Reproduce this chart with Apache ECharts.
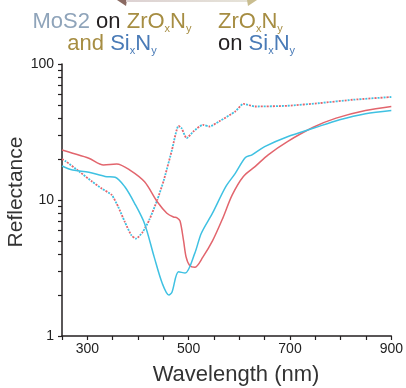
<!DOCTYPE html>
<html><head><meta charset="utf-8">
<script src="https://cdn.jsdelivr.net/npm/echarts@6/dist/echarts.min.js"></script>
<style>html,body{margin:0;padding:0;background:#fff}#c{width:406px;height:388px}</style>
</head><body><div id="c"></div>
<script>
// Solid red: ZrOxNy on SixNy
const redWl  = [250,271,303,332,358,384,413,438,457,470,477,483,490,495,502,512,528,547,567,586,608,631,657,695,747,791,849,900];
const redVal = [23.3,22.1,20.3,18.1,18.4,16.6,13.6,9.7,8.0,7.5,7.4,7.0,5.0,3.8,3.3,3.2,3.8,5.0,7.3,10.9,14.9,17.6,21.5,26.9,34.4,40.0,45.5,48.7];
// Solid cyan: MoS2 on ZrOxNy and SixNy
const cyanWl  = [250,271,303,335,355,374,393,413,432,448,461,467,480,493,512,525,547,573,592,612,625,650,695,747,798,849,900];
const cyanVal = [17.8,16.6,16.0,14.9,14.7,12.5,9.5,6.7,3.8,2.43,2.0,2.1,2.97,2.9,4.05,5.7,8.0,12.5,15.7,20.5,21.5,24.7,29.2,33.8,38.9,43.1,45.5];
// Dotted curves (red and cyan overlap)
const dotWl      = [250,258,284,310,329,348,361,374,387,396,409,422,438,451,467,480,486,496,509,528,541,560,592,608,631,695,759,824,900];
const dotRedVal  = [20.0,19.2,16.2,13.6,12.1,10.9,8.9,6.9,5.5,5.2,5.8,7.1,10.0,14.0,23.3,35.1,33.7,28.5,31.8,35.7,34.7,37.8,44.8,50.9,48.7,49.3,51.6,54.6,57.2];
const dotCyanVal = [20.0,19.2,16.2,13.6,12.1,10.9,8.9,6.9,5.5,5.2,5.8,7.1,10.0,14.0,23.3,35.1,33.7,28.5,31.8,35.7,34.7,37.8,44.8,50.9,48.7,49.3,51.6,54.6,57.2];
const xTickLabels = [300,500,700,900];
const yTickLabels = [1,10,100];
const yTicks = [1,2,3,4,5,6,7,8,9,10,20,30,40,50,60,70,80,90,100];

const pairs = (xs, ys) => xs.map((x, i) => [x, ys[i]]);
const RED = '#e2656d', CYAN = '#3fc1e2';
const GOLD = '#a68d42', BLUE = '#4a7bb7', GREY = '#8fa4ba', INK = '#231f20';
const FONT = '"Liberation Sans", Arial, sans-serif';

const main = c => ({fill: c, fontSize: 22, fontFamily: FONT, lineHeight: 24});
const sub = c => ({fill: c, fontSize: 11, fontFamily: FONT, lineHeight: 24, verticalAlign: 'bottom', padding: [14, 0, 0, 0]});
const rich = {
  g: main(GREY), k: main(INK), o: main(GOLD), b: main(BLUE),
  os: sub(GOLD), bs: sub(BLUE)
};

const chart = echarts.init(document.getElementById('c'), null, {renderer: 'canvas'});
chart.setOption({
  animation: false,
  backgroundColor: '#fff',
  grid: {left: 62, right: 7, top: 64, bottom: 52},
  xAxis: {
    type: 'value', min: 250, max: 900, interval: 50,
    axisLine: {show: true, lineStyle: {color: INK, width: 1.5}},
    axisTick: {show: true, length: 4, lineStyle: {color: INK, width: 1.2}},
    axisLabel: {
      color: '#222', fontSize: 14, fontFamily: FONT, margin: 6,
      formatter: v => xTickLabels.includes(v) ? String(v) : ''
    },
    splitLine: {show: false}
  },
  yAxis: {
    type: 'log', logBase: 10, min: 1, max: 100,
    axisLine: {show: true, lineStyle: {color: INK, width: 1.5}},
    axisTick: {show: true, length: 4, customValues: yTicks, lineStyle: {color: INK, width: 1.2}},
    axisLabel: {color: '#222', fontSize: 14, fontFamily: FONT, margin: 8, customValues: yTickLabels},
    splitLine: {show: false}
  },
  series: [
    {type: 'line', data: pairs(dotWl, dotRedVal), showSymbol: false, smooth: 0.2,
     lineStyle: {color: RED, width: 1.8, type: [2, 4]}},
    {type: 'line', data: pairs(dotWl, dotCyanVal), showSymbol: false, smooth: 0.2,
     lineStyle: {color: CYAN, width: 1.8, type: [2, 4], dashOffset: 3}},
    {type: 'line', data: pairs(redWl, redVal), showSymbol: false, smooth: 0.3,
     lineStyle: {color: RED, width: 1.5}},
    {type: 'line', data: pairs(cyanWl, cyanVal), showSymbol: false, smooth: 0.3,
     lineStyle: {color: CYAN, width: 1.5}}
  ],
  graphic: [
    {type: 'polygon', shape: {points: [[117,0],[127,0],[126,6]]}, style: {fill: '#8a6a62'}},
    {type: 'rect', shape: {x: 126, y: 0, width: 122, height: 2},
     style: {fill: new echarts.graphic.LinearGradient(0,0,1,0,[{offset:0,color:'#ddd2d3'},{offset:1,color:'#e6e3d8'}])}},
    {type: 'polygon', shape: {points: [[257,0],[247,0],[248,6]]}, style: {fill: '#c9bd8f'}},
    {type: 'text', x: 112, y: 10, style: {
      text: '{g|MoS2 }{k|on }{o|ZrO}{os|x}{o|N}{os|y}', rich: rich, align: 'center', verticalAlign: 'top'}},
    {type: 'text', x: 112, y: 32, style: {
      text: '{o|and }{b|Si}{bs|x}{b|N}{bs|y}', rich: rich, align: 'center', verticalAlign: 'top'}},
    {type: 'text', x: 218, y: 10, style: {
      text: '{o|ZrO}{os|x}{o|N}{os|y}', rich: rich, align: 'left', verticalAlign: 'top'}},
    {type: 'text', x: 218, y: 32, style: {
      text: '{k|on }{b|Si}{bs|x}{b|N}{bs|y}', rich: rich, align: 'left', verticalAlign: 'top'}},
    {type: 'text', x: 16, y: 192, rotation: Math.PI / 2, style: {
      text: 'Reflectance', fill: '#333', fontSize: 21, fontFamily: FONT, align: 'center', verticalAlign: 'middle'}},
    {type: 'text', x: 236, y: 375, style: {
      text: 'Wavelength (nm)', fill: '#333', fontSize: 22, fontFamily: FONT, align: 'center', verticalAlign: 'middle'}}
  ]
});
</script></body></html>
